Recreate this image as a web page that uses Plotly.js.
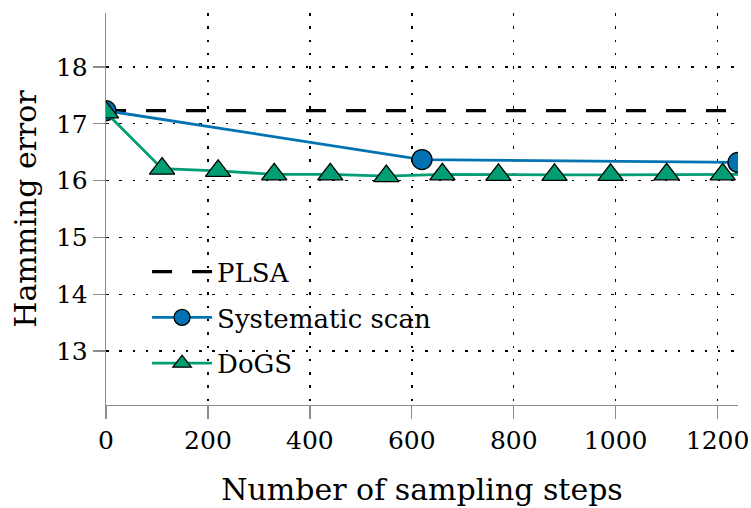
<!DOCTYPE html>
<html>
<head>
<meta charset="utf-8">
<script src="https://cdn.plot.ly/plotly-3.0.1.min.js"></script>
<style>html,body{margin:0;padding:0;background:#fff;}#chart{width:751px;height:508px;}</style>
</head>
<body>
<div id="chart"></div>
<script>
// Data
const plsaX = [0, 1240];
const plsaY = [17.23, 17.23];

const scanX = [0, 620, 1240];
const scanY = [17.23, 16.37, 16.32];

const dogsX = [0, 110, 220, 330, 440, 550, 660, 770, 880, 990, 1100, 1210, 1240];
const dogsY = [17.2, 16.21, 16.17, 16.11, 16.11, 16.08, 16.11, 16.1, 16.1, 16.1, 16.11, 16.11, 16.11];
const dogsMarked = [1, 1, 1, 1, 1, 1, 1, 1, 1, 1, 1, 1, 0];

const xTicks = [0, 200, 400, 600, 800, 1000, 1200];
const yTicks = [13, 14, 15, 16, 17, 18];

const FONT = 'DejaVu Serif';
const AXIS_GREY = '#8c8c8c';

const traces = [
  {
    x: plsaX, y: plsaY, name: 'PLSA', mode: 'lines', legendgroup: 'a',
    line: {color: '#000000', width: 3.2, dash: '20px,20px'}
  },
  {
    x: scanX, y: scanY, name: 'Systematic scan', mode: 'lines+markers', legendgroup: 'b',
    line: {color: '#0173B2', width: 2.8},
    marker: {symbol: 'circle', size: 20, opacity: 1, color: '#0173B2', line: {color: '#000000', width: 1.3}}
  },
  {
    x: dogsX, y: dogsY, name: 'DoGS', mode: 'lines+markers', legendgroup: 'c',
    line: {color: '#029E73', width: 2.8},
    marker: {symbol: 'triangle-up', size: dogsMarked.map(v => v ? 22 : 0), opacity: 1, color: '#029E73',
             line: {color: '#000000', width: 1.3}}
  }
];

const layout = {
  width: 751, height: 508,
  margin: {l: 106, r: 13, t: 13, b: 103},
  paper_bgcolor: '#ffffff', plot_bgcolor: '#ffffff',
  font: {family: FONT, color: '#000000', size: 24},
  showlegend: true,
  legend: {
    x: 0.065, y: 0.40, xanchor: 'left', yanchor: 'top',
    bgcolor: 'rgba(255,255,255,0)', borderwidth: 0,
    font: {family: FONT, size: 26, color: '#000000'},
    traceorder: 'grouped', tracegroupgap: 9, itemwidth: 60
  },
  xaxis: {
    range: [0, 1240], tickvals: xTicks, ticktext: xTicks.map(String),
    showline: true, linecolor: AXIS_GREY, linewidth: 1.3,
    ticks: 'outside', ticklen: 13, tickcolor: AXIS_GREY, tickwidth: 1.3,
    showgrid: true, gridcolor: '#000000', gridwidth: 1.4, griddash: '2.5px,10.8px',
    zeroline: false, tickfont: {family: FONT, size: 25},
    title: {text: 'Number of sampling steps', font: {family: FONT, size: 30}, standoff: 24}
  },
  yaxis: {
    range: [12.05, 18.95], tickvals: yTicks, ticktext: yTicks.map(String),
    showline: true, linecolor: AXIS_GREY, linewidth: 1.3,
    ticks: 'outside', ticklen: 12, tickcolor: AXIS_GREY, tickwidth: 1.3,
    showgrid: true, gridcolor: '#000000', gridwidth: 1.4, griddash: '2.5px,10.8px',
    zeroline: false, tickfont: {family: FONT, size: 25},
    title: {text: 'Hamming error', font: {family: FONT, size: 30}, standoff: 10}
  }
};

Plotly.newPlot('chart', traces, layout, {staticPlot: true, displayModeBar: false});
</script>
</body>
</html>
